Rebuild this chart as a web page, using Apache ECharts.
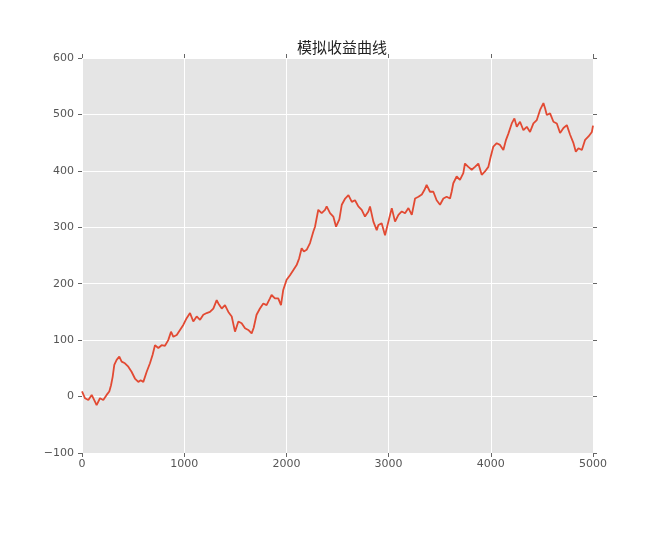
<!DOCTYPE html>
<html>
<head>
<meta charset="utf-8">
<script src="https://cdn.jsdelivr.net/npm/echarts@6/dist/echarts.min.js"></script>
<style>
html,body{margin:0;padding:0;background:#fff;}
#chart{width:657px;height:545px;}
</style>
</head>
<body>
<div id="chart"></div>
<script>
const titleText = '模拟收益曲线';
const xTicks = [0, 1000, 2000, 3000, 4000, 5000];
const yTicks = [-100, 0, 100, 200, 300, 400, 500, 600];
const steps = [0,30,62,95,127,143,176,208,241,267,284,300,316,339,365,388,420,453,485,518,551,574,600,633,665,691,714,747,779,812,844,871,894,927,959,991,1024,1057,1089,1122,1155,1187,1220,1252,1285,1318,1334,1367,1399,1432,1465,1497,1530,1562,1595,1627,1660,1680,1708,1741,1774,1806,1839,1855,1888,1920,1947,1969,2002,2035,2067,2100,2125,2149,2171,2198,2231,2263,2280,2312,2345,2378,2394,2427,2459,2486,2518,2542,2575,2607,2640,2671,2704,2737,2769,2802,2818,2851,2884,2900,2932,2965,2998,3031,3063,3096,3129,3161,3194,3227,3259,3292,3325,3350,3372,3405,3438,3470,3503,3536,3568,3601,3617,3633,3666,3698,3731,3747,3780,3813,3845,3878,3911,3943,3976,3999,4025,4058,4090,4123,4149,4172,4205,4231,4254,4286,4319,4352,4384,4417,4450,4482,4515,4531,4548,4580,4613,4646,4678,4711,4744,4776,4809,4832,4858,4891,4923,4956,4989,5000];
const returns = [9,-3,-6,3,-9,-15,-3,-6,3,9,20,35,56,65,71,62,59,53,44,32,26,29,26,44,59,74,91,86,91,90,100,115,106,109,118,127,139,148,133,142,136,145,148,150,156,171,165,156,162,150,142,115,133,130,121,118,112,122,145,156,165,162,174,180,174,174,162,189,207,215,224,233,245,263,257,260,272,292,301,331,325,331,337,325,319,301,314,340,351,357,345,348,337,331,319,328,337,310,295,304,307,286,310,334,310,322,328,325,334,322,351,354,358,366,375,363,363,348,340,351,354,351,363,378,390,384,396,413,407,402,407,413,393,399,407,425,443,449,446,437,455,466,484,493,478,487,472,478,469,484,490,508,520,511,499,502,487,484,467,476,481,464,449,434,440,437,455,461,469,480];

const data = steps.map((s, i) => [s, returns[i]]);
const fmtMinus = v => String(v).replace('-', '\u2212');
const tickStyle = {show: true, inside: false, length: 4, lineStyle: {color: '#666666', width: 1}};
const hiddenLine = {show: false, onZero: false};
const labelStyle = {color: '#555555', fontSize: 11, fontFamily: 'DejaVu Sans'};

const chart = echarts.init(document.getElementById('chart'), null, {renderer: 'canvas'});
chart.setOption({
  animation: false,
  backgroundColor: '#ffffff',
  title: {
    text: titleText,
    left: 337, top: 35, textAlign: 'center',
    textStyle: {fontSize: 15, fontWeight: 'normal', color: '#222222', fontFamily: 'Noto Sans CJK SC'}
  },
  grid: {left: 82, right: 64, top: 58, bottom: 92, show: true, backgroundColor: '#E5E5E5', borderWidth: 0},
  xAxis: [
    {type: 'value', position: 'bottom', min: xTicks[0], max: xTicks[xTicks.length-1], interval: 1000,
     axisLine: hiddenLine, axisTick: tickStyle,
     axisLabel: Object.assign({margin: 6, formatter: fmtMinus}, labelStyle),
     splitLine: {show: true, lineStyle: {color: '#ffffff', width: 1}}},
    {type: 'value', position: 'top', min: xTicks[0], max: xTicks[xTicks.length-1], interval: 1000,
     axisLine: hiddenLine, axisTick: tickStyle, axisLabel: {show: false}, splitLine: {show: false}}
  ],
  yAxis: [
    {type: 'value', position: 'left', min: yTicks[0], max: yTicks[yTicks.length-1], interval: 100,
     axisLine: hiddenLine, axisTick: tickStyle,
     axisLabel: Object.assign({margin: 8, formatter: fmtMinus}, labelStyle),
     splitLine: {show: true, lineStyle: {color: '#ffffff', width: 1}}},
    {type: 'value', position: 'right', min: yTicks[0], max: yTicks[yTicks.length-1], interval: 100,
     axisLine: hiddenLine, axisTick: tickStyle, axisLabel: {show: false}, splitLine: {show: false}}
  ],
  series: [{
    type: 'line', data: data, xAxisIndex: 0, yAxisIndex: 0,
    showSymbol: false, symbol: 'none',
    lineStyle: {color: '#E24A33', width: 1.8},
    itemStyle: {color: '#E24A33'}
  }]
});
</script>
</body>
</html>
